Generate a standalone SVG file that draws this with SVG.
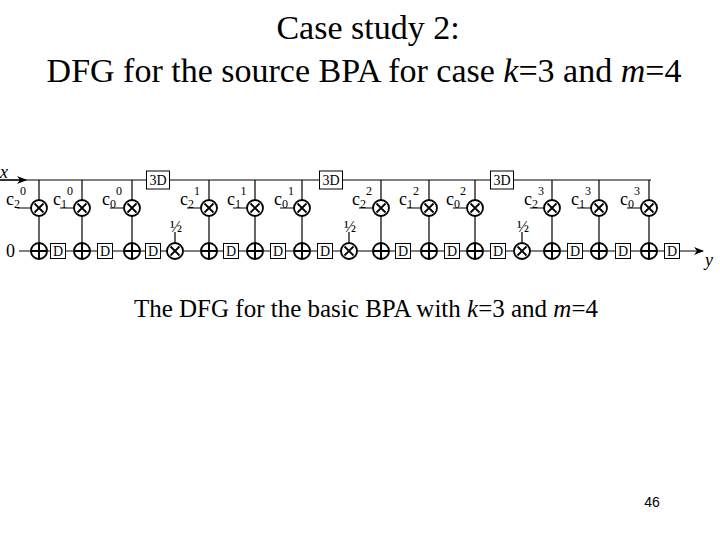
<svg xmlns="http://www.w3.org/2000/svg" width="720" height="540" viewBox="0 0 720 540">
<defs>
<marker id="ar" markerWidth="10" markerHeight="8" refX="9" refY="4" orient="auto" markerUnits="userSpaceOnUse"><path d="M0,0 L10,4 L0,8 L3,4 z" fill="#000"/></marker>
<g id="mul"><circle r="8" fill="#fff" stroke="#000" stroke-width="1.8"/><path d="M-4.5,-4.5 L4.5,4.5 M-4.5,4.5 L4.5,-4.5" stroke="#000" stroke-width="1.8"/></g>
<g id="add"><circle r="8" fill="#fff" stroke="#000" stroke-width="1.8"/><path d="M-8,0 L8,0 M0,-8 L0,8" stroke="#000" stroke-width="2"/></g>
<g id="d"><rect x="-7.5" y="-7.5" width="15" height="15" fill="#fff" stroke="#000"/><text y="5" text-anchor="middle" class="t">D</text></g>
<g id="d3"><rect x="-11.5" y="-9" width="23" height="18" fill="#fff" stroke="#000"/><text y="5" text-anchor="middle" class="t">3D</text></g>
</defs>
<style>
text{fill:#000}
.t{font-family:"Liberation Serif",serif;font-size:14px}
.ln{stroke:#000;stroke-width:1.2;fill:none}
.title{font-family:"Liberation Serif",serif;font-size:34px}
.c{font-family:"Liberation Serif",serif;font-size:18px}
.s{font-size:12px}
</style>
<rect width="720" height="540" fill="#fff"/>
<text class="title" x="368" y="39" text-anchor="middle">Case study 2:</text>
<text class="title" x="364" y="82" text-anchor="middle" font-size="36">DFG for the source BPA for case <tspan font-style="italic">k</tspan>=3 and <tspan font-style="italic">m</tspan>=4</text>
<g id="connectors" class="ln">
<path d="M0,180 H651"/>
<path d="M0,180 H26" marker-end="url(#ar)"/>
<path d="M19,251 H703" marker-end="url(#ar)"/>
<path d="M39,180 V251 M82,180 V251 M132,180 V251 M209,180 V251 M255,180 V251 M302,180 V251 M381,180 V251 M429,180 V251 M475,180 V251 M552,180 V251 M599,180 V251 M649,180 V251"/>
<path d="M17,208 H31 M60,208 H74 M110,208 H124 M187,208 H201 M233,208 H247 M280,208 H294 M359,208 H373 M407,208 H421 M453,208 H467 M530,208 H544 M577,208 H591 M627,208 H641"/>
<path d="M175,232 V243 M349,232 V243 M522,232 V243"/>
</g>
<text class="c" x="0" y="178" font-style="italic" font-size="16">x</text>
<text class="c" x="705" y="266" font-style="italic" font-size="16">y</text>
<text class="c" x="6" y="257" font-size="16">0</text>
<g id="nodes">
<use href="#d3" x="158" y="180"/><use href="#d3" x="331" y="180"/><use href="#d3" x="502" y="180"/>
<g id="mults">
<use href="#mul" x="39" y="208"/><use href="#mul" x="82" y="208"/><use href="#mul" x="132" y="208"/>
<use href="#mul" x="209" y="208"/><use href="#mul" x="255" y="208"/><use href="#mul" x="302" y="208"/>
<use href="#mul" x="381" y="208"/><use href="#mul" x="429" y="208"/><use href="#mul" x="475" y="208"/>
<use href="#mul" x="552" y="208"/><use href="#mul" x="599" y="208"/><use href="#mul" x="649" y="208"/>
<use href="#mul" x="175" y="251"/><use href="#mul" x="349" y="251"/><use href="#mul" x="522" y="251"/>
</g>
<g id="adds">
<use href="#add" x="39" y="251"/><use href="#add" x="82" y="251"/><use href="#add" x="132" y="251"/>
<use href="#add" x="209" y="251"/><use href="#add" x="255" y="251"/><use href="#add" x="302" y="251"/>
<use href="#add" x="381" y="251"/><use href="#add" x="429" y="251"/><use href="#add" x="475" y="251"/>
<use href="#add" x="552" y="251"/><use href="#add" x="599" y="251"/><use href="#add" x="649" y="251"/>
</g>
<g id="delays">
<use href="#d" x="58" y="251"/><use href="#d" x="105" y="251"/><use href="#d" x="153" y="251"/>
<use href="#d" x="231" y="251"/><use href="#d" x="278" y="251"/><use href="#d" x="325" y="251"/>
<use href="#d" x="403" y="251"/><use href="#d" x="452" y="251"/><use href="#d" x="498" y="251"/>
<use href="#d" x="575" y="251"/><use href="#d" x="623" y="251"/><use href="#d" x="672" y="251"/>
</g>
</g>
<g id="labels" class="c">
<text x="6" y="205">c<tspan class="s" dy="3">2</tspan><tspan class="s" dy="-13">0</tspan></text>
<text x="53" y="205">c<tspan class="s" dy="3">1</tspan><tspan class="s" dy="-13">0</tspan></text>
<text x="102" y="205">c<tspan class="s" dy="3">0</tspan><tspan class="s" dy="-13">0</tspan></text>
<text x="180" y="205">c<tspan class="s" dy="3">2</tspan><tspan class="s" dy="-13">1</tspan></text>
<text x="227" y="205">c<tspan class="s" dy="3">1</tspan><tspan class="s" dy="-13">1</tspan></text>
<text x="274" y="205">c<tspan class="s" dy="3">0</tspan><tspan class="s" dy="-13">1</tspan></text>
<text x="352" y="205">c<tspan class="s" dy="3">2</tspan><tspan class="s" dy="-13">2</tspan></text>
<text x="399" y="205">c<tspan class="s" dy="3">1</tspan><tspan class="s" dy="-13">2</tspan></text>
<text x="446" y="205">c<tspan class="s" dy="3">0</tspan><tspan class="s" dy="-13">2</tspan></text>
<text x="524" y="205">c<tspan class="s" dy="3">2</tspan><tspan class="s" dy="-13">3</tspan></text>
<text x="571" y="205">c<tspan class="s" dy="3">1</tspan><tspan class="s" dy="-13">3</tspan></text>
<text x="620" y="205">c<tspan class="s" dy="3">0</tspan><tspan class="s" dy="-13">3</tspan></text>
<text x="176" y="232" text-anchor="middle" font-size="16">½</text>
<text x="350" y="232" text-anchor="middle" font-size="16">½</text>
<text x="523" y="232" text-anchor="middle" font-size="16">½</text>
</g>
<text x="366" y="317" text-anchor="middle" font-family="Liberation Serif, serif" font-size="25">The DFG for the basic BPA with <tspan font-style="italic">k</tspan>=3 and <tspan font-style="italic">m</tspan>=4</text>
<text x="652" y="507" text-anchor="middle" font-family="Liberation Sans, sans-serif" font-size="14">46</text>
</svg>
